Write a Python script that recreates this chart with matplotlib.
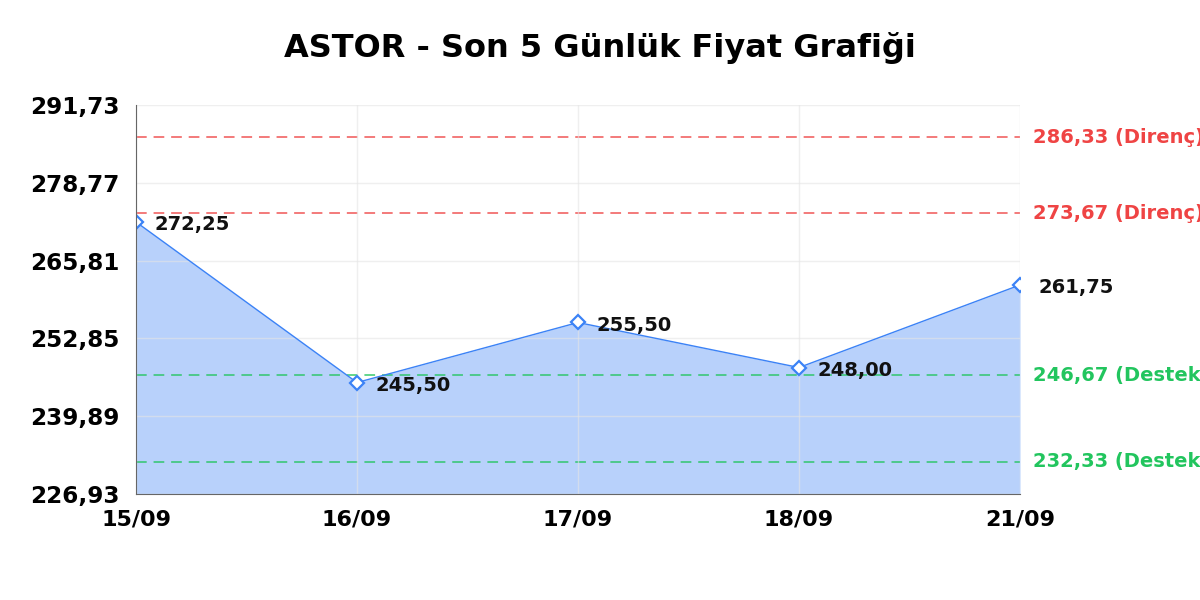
import matplotlib
matplotlib.use("Agg")
import matplotlib.pyplot as plt

plt.rcParams["font.family"] = ["DejaVu Sans"]

# price data
dates = ["15/09", "16/09", "17/09", "18/09", "21/09"]
prices = [272.25, 245.50, 255.50, 248.00, 261.75]
resistance = [286.33, 273.67]
support = [246.67, 232.33]
y_ticks = [226.93, 239.89, 252.85, 265.81, 278.77, 291.73]

def tr(v):
    return f"{v:.2f}".replace(".", ",")

fig = plt.figure(figsize=(12, 6), dpi=100)
ax = fig.add_axes([136 / 1200, 106 / 600, 884 / 1200, 389 / 600])

x = list(range(len(dates)))
ax.fill_between(x, prices, y_ticks[0], color="#3b82f6", alpha=0.36, lw=0, zorder=1)
ax.plot(x, prices, color="#3b82f6", lw=1, zorder=3)
ax.plot(x, prices, ls="none", marker="D", ms=7, mfc="white", mec="#3b82f6", mew=1.6, zorder=4)

for xi, p in zip(x, prices):
    ax.annotate(tr(p), (xi, p), xytext=(13, -6), textcoords="offset points",
                fontsize=14, color="#111111", fontweight="bold", zorder=5)

for r in resistance:
    ax.axhline(r, color="#ef4444", ls=(0, (7, 4.5)), lw=1.1, alpha=0.9, zorder=2)
    ax.text(1.015, r, f"{tr(r)} (Direnç)", transform=ax.get_yaxis_transform(),
            color="#ef4444", fontsize=14, fontweight="bold", va="center", clip_on=False)
for s in support:
    ax.axhline(s, color="#22c55e", ls=(0, (7, 4.5)), lw=1.1, alpha=0.9, zorder=2)
    ax.text(1.015, s, f"{tr(s)} (Destek)", transform=ax.get_yaxis_transform(),
            color="#22c55e", fontsize=14, fontweight="bold", va="center", clip_on=False)

ax.set_xlim(0, len(dates) - 1)
ax.set_ylim(y_ticks[0], y_ticks[-1])
ax.set_xticks(x)
ax.set_xticklabels(dates, fontsize=16, fontweight="bold")
ax.set_yticks(y_ticks)
ax.set_yticklabels([tr(v) for v in y_ticks], fontsize=16.7, fontweight="bold")
ax.tick_params(axis="y", length=0, pad=12)
ax.tick_params(axis="x", length=0, pad=11)
ax.grid(True, color="#e5e5e5", lw=1, zorder=0)
ax.set_axisbelow(False)
for g in ax.get_xgridlines() + ax.get_ygridlines():
    g.set_alpha(0.6)
ax.spines["top"].set_visible(False)
ax.spines["right"].set_visible(False)
for side in ["left", "bottom"]:
    ax.spines[side].set_color("#666666")
    ax.spines[side].set_zorder(6)

fig.text(0.5, 1 - 48 / 600, "ASTOR - Son 5 Günlük Fiyat Grafiği", fontsize=23,
         fontweight="bold", ha="center", va="center")

fig.savefig("out.png", dpi=100)
